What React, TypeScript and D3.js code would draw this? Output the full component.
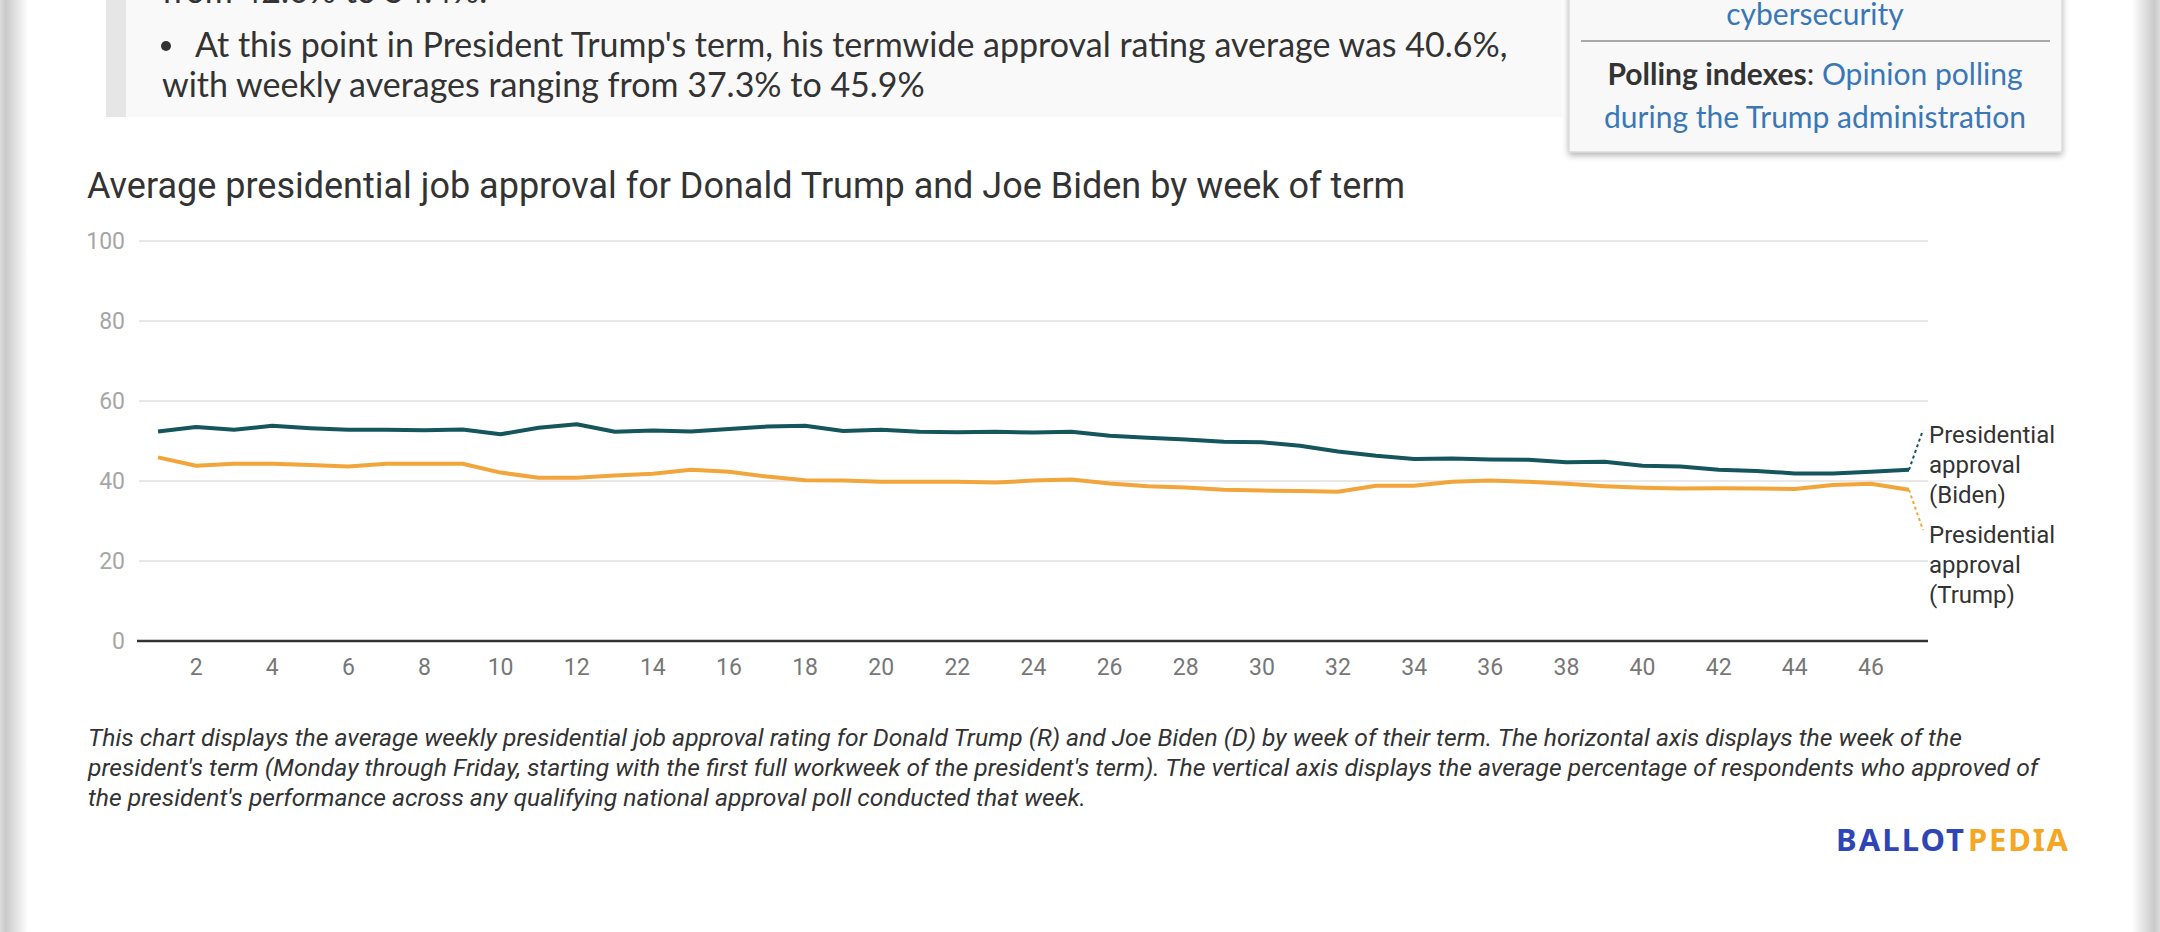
import React from "react";
import * as d3 from "d3";

// weekly average approval, by week of term
const weeks = d3.range(1, 48);
const bidenApproval = [
  52.4, 53.5, 52.8, 53.8, 53.2, 52.8, 52.8, 52.7, 52.9, 51.7, 53.3, 54.2, 52.3,
  52.6, 52.4, 53.0, 53.6, 53.8, 52.5, 52.8, 52.3, 52.2, 52.3, 52.1, 52.3, 51.3,
  50.8, 50.4, 49.8, 49.7, 48.8, 47.4, 46.3, 45.5, 45.6, 45.4, 45.3, 44.7, 44.8,
  43.8, 43.6, 42.8, 42.5, 41.9, 41.9, 42.3, 42.8,
];
const trumpApproval = [
  45.9, 43.8, 44.3, 44.3, 44.0, 43.6, 44.3, 44.3, 44.3, 42.1, 40.8, 40.8, 41.4,
  41.8, 42.8, 42.3, 41.1, 40.2, 40.1, 39.8, 39.8, 39.8, 39.6, 40.1, 40.4, 39.4,
  38.7, 38.4, 37.8, 37.6, 37.5, 37.3, 38.8, 38.8, 39.8, 40.1, 39.8, 39.3, 38.7,
  38.3, 38.1, 38.2, 38.1, 38.0, 39.0, 39.3, 37.8,
];
const yTicks = [0, 20, 40, 60, 80, 100];
const xTicks = d3.range(2, 47, 2);

const seriesLabels = [
  { key: "biden", lines: ["Presidential", "approval", "(Biden)"] },
  { key: "trump", lines: ["Presidential", "approval", "(Trump)"] },
];

const footnote = [
  "This chart displays the average weekly presidential job approval rating for Donald Trump (R) and Joe Biden (D) by week of their term. The horizontal axis displays the week of the",
  "president's term (Monday through Friday, starting with the first full workweek of the president's term). The vertical axis displays the average percentage of respondents who approved of",
  "the president's performance across any qualifying national approval poll conducted that week.",
];

const BIDEN = "#14565c";
const TRUMP = "#f2a53a";
const LATO = "Lato, 'Open Sans', sans-serif";
const ROBOTO = "Roboto, 'Noto Sans', sans-serif";

export default function App() {
  const W = 2160;
  const H = 932;
  const plot = { left: 139, right: 1928, top: 241, bottom: 641 };

  const x = d3
    .scalePoint<number>()
    .domain(weeks)
    .range([plot.left, plot.right])
    .padding(0.5);
  const y = d3.scaleLinear().domain([0, 100]).range([plot.bottom, plot.top]);

  const line = d3
    .line<number>()
    .x((_, i) => x(weeks[i]) as number)
    .y((d) => y(d));

  const lastX = x(weeks[weeks.length - 1]) as number;
  const labelX = plot.right + 1;
  const bidenEnd = y(bidenApproval[bidenApproval.length - 1]);
  const trumpEnd = y(trumpApproval[trumpApproval.length - 1]);
  const labelTops = [443, 543];

  return (
    <svg
      width={W}
      height={H}
      style={{ position: "absolute", left: 0, top: 0, background: "#fff" }}
    >
      <defs>
        <linearGradient id="leftShade" x1="0" x2="1" y1="0" y2="0">
          <stop offset="0" stopColor="#dcdcdc" />
          <stop offset="0.2" stopColor="#c9c9c9" />
          <stop offset="1" stopColor="#ffffff" />
        </linearGradient>
        <linearGradient id="rightShade" x1="1" x2="0" y1="0" y2="0">
          <stop offset="0" stopColor="#dcdcdc" />
          <stop offset="0.2" stopColor="#c9c9c9" />
          <stop offset="1" stopColor="#ffffff" />
        </linearGradient>
        <filter id="boxShadow" x="-10%" y="-20%" width="120%" height="150%">
          <feDropShadow dx="0" dy="3" stdDeviation="3" floodColor="#000" floodOpacity="0.3" />
        </filter>
      </defs>

      <rect x={0} y={0} width={28} height={H} fill="url(#leftShade)" />
      <rect x={2132} y={0} width={28} height={H} fill="url(#rightShade)" />

      {/* quote box above the chart */}
      <rect x={106} y={-10} width={1456} height={127} fill="#f9f9f9" />
      <rect x={106} y={-10} width={20} height={127} fill="#e6e6e6" />
      <text x={162} y={3} fontFamily={LATO} fontSize={34} fill="#333">
        from 42.0% to 54.4%.
      </text>
      <circle cx={166} cy={46} r={5} fill="#333" />
      <text x={195} y={57} fontFamily={LATO} fontSize={34} fill="#333">
        At this point in President Trump's term, his termwide approval rating average was 40.6%,
      </text>
      <text x={162} y={97} fontFamily={LATO} fontSize={34} fill="#333">
        with weekly averages ranging from 37.3% to 45.9%
      </text>

      {/* side info box */}
      <rect
        x={1569}
        y={-10}
        width={493}
        height={162}
        fill="#f8f8f8"
        stroke="#cfcfcf"
        filter="url(#boxShadow)"
      />
      <line x1={1581} x2={2050} y1={41} y2={41} stroke="#a9a9a9" strokeWidth={2} />
      <g fontFamily={LATO} fontSize={30} textAnchor="middle">
        <text x={1815} y={25} fill="#3a77b6">
          cybersecurity
        </text>
        <text x={1815} y={85} fill="#3a77b6">
          <tspan fontWeight={700} fill="#333">
            Polling indexes
          </tspan>
          <tspan fill="#333">: </tspan>
          <tspan>Opinion polling</tspan>
        </text>
        <text x={1815} y={128} fill="#3a77b6">
          during the Trump administration
        </text>
      </g>

      {/* title */}
      <text x={87} y={198} fontFamily={ROBOTO} fontSize={36} fill="#333">
        Average presidential job approval for Donald Trump and Joe Biden by week of term
      </text>

      {/* grid and y axis */}
      <g fontFamily={ROBOTO} fontSize={23}>
        {yTicks.map((t) => (
          <g key={t}>
            {t > 0 && (
              <line
                x1={plot.left}
                x2={plot.right}
                y1={y(t)}
                y2={y(t)}
                stroke="#e8e8e8"
                strokeWidth={2}
              />
            )}
            <text x={125} y={y(t)} dy="0.36em" textAnchor="end" fill="#a6a6a6">
              {t}
            </text>
          </g>
        ))}
        <line
          x1={plot.left - 2}
          x2={plot.right}
          y1={y(0)}
          y2={y(0)}
          stroke="#333"
          strokeWidth={2.5}
        />
        {xTicks.map((t) => (
          <text
            key={t}
            x={x(t)}
            y={675}
            textAnchor="middle"
            fill="#777"
          >
            {t}
          </text>
        ))}
      </g>

      {/* series */}
      <path d={line(trumpApproval) ?? ""} fill="none" stroke={TRUMP} strokeWidth={4} strokeLinejoin="round" />
      <path d={line(bidenApproval) ?? ""} fill="none" stroke={BIDEN} strokeWidth={4} strokeLinejoin="round" />

      {/* direct labels */}
      <line
        x1={lastX}
        y1={bidenEnd}
        x2={labelX - 6}
        y2={labelTops[0] - 13}
        stroke={BIDEN}
        strokeWidth={2}
        strokeDasharray="3 3"
      />
      <line
        x1={lastX}
        y1={trumpEnd}
        x2={labelX - 6}
        y2={labelTops[1] - 13}
        stroke={TRUMP}
        strokeWidth={2}
        strokeDasharray="3 3"
      />
      <g fontFamily={ROBOTO} fontSize={24} fill="#333">
        {seriesLabels.map((s, i) => (
          <text key={s.key} x={labelX} y={labelTops[i]}>
            {s.lines.map((l, j) => (
              <tspan key={j} x={labelX} dy={j === 0 ? 0 : 30}>
                {l}
              </tspan>
            ))}
          </text>
        ))}
      </g>

      {/* footnote */}
      <g fontFamily={ROBOTO} fontSize={24.7} fontStyle="italic" fill="#333">
        {footnote.map((l, i) => (
          <text key={i} x={88} y={746 + i * 30}>
            {l}
          </text>
        ))}
      </g>

      {/* logo */}
      <g fontFamily="'Noto Sans', sans-serif" fontSize={31} fontWeight={700}>
        <text x={1836} y={851} fill="#2f45b5" textLength={128} lengthAdjust="spacing">
          BALLOT
        </text>
        <text x={1968} y={851} fill="#f5a623" textLength={100} lengthAdjust="spacing">
          PEDIA
        </text>
      </g>
    </svg>
  );
}
